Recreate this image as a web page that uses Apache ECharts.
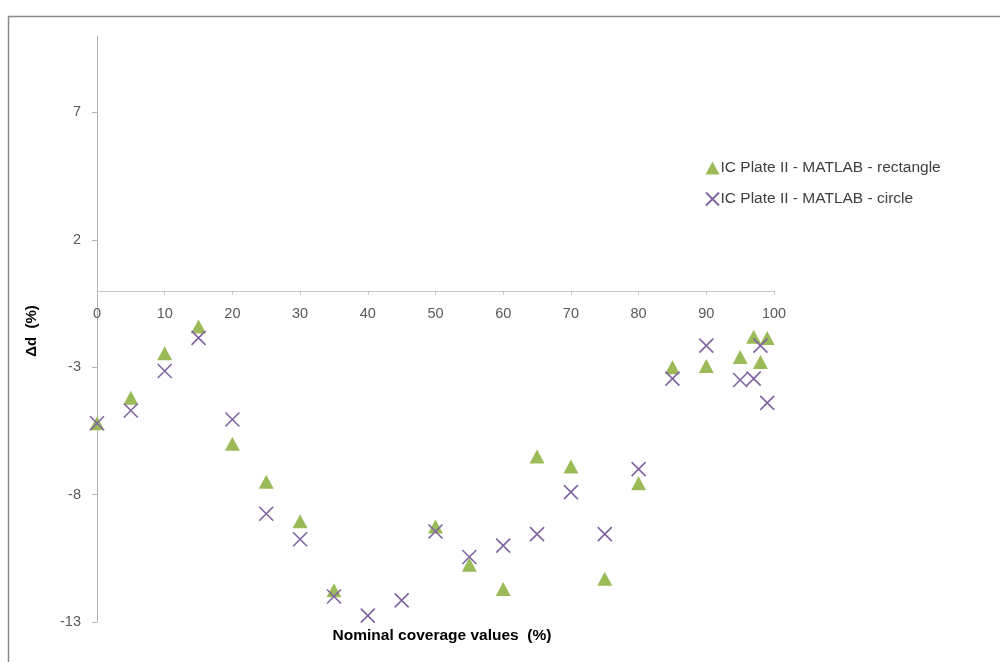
<!DOCTYPE html>
<html>
<head>
<meta charset="utf-8">
<script src="https://cdn.jsdelivr.net/npm/echarts@6/dist/echarts.min.js"></script>
<style>
  html, body { margin: 0; padding: 0; background: #fff; }
  #chart { width: 1000px; height: 662px; }
</style>
</head>
<body>
<div id="chart"></div>
<script>
// Nominal coverage (%) and deviation Δd (%) for each shape model
const rectCoverage = [0, 5, 10, 15, 20, 25, 30, 35, 50, 55, 60, 65, 70, 75, 80, 85, 90, 95, 97, 98, 99];
const rectDelta    = [-5.2, -4.2, -2.45, -1.4, -6.0, -7.5, -9.05, -11.75, -9.25, -10.75, -11.7, -6.5, -6.9, -11.3, -7.55, -3.0, -2.95, -2.6, -1.8, -2.8, -1.85];

const circCoverage = [0, 5, 10, 15, 20, 25, 30, 35, 40, 45, 50, 55, 60, 65, 70, 75, 80, 85, 90, 95, 97, 98, 99];
const circDelta    = [-5.2, -4.7, -3.15, -1.85, -5.05, -8.75, -9.75, -12.0, -12.75, -12.15, -9.45, -10.45, -10.0, -9.55, -7.9, -9.55, -7.0, -3.45, -2.15, -3.5, -3.45, -2.15, -4.4];

const yTickValues = [-13, -8, -3, 2, 7];
const yMin = -13, yMax = 10;

const seriesNames = ['IC Plate II - MATLAB - rectangle', 'IC Plate II - MATLAB - circle'];

const zip = (xs, ys) => xs.map((x, i) => [x, ys[i]]);

const FONT = '"Liberation Sans", Arial, sans-serif';
const crossPath = 'path://M0,0L10,10M10,0L0,10';

// plot area
const W = 1000, H = 662;
const grid = { left: 97, right: 226, top: 36, bottom: 40 };
const plotH = H - grid.top - grid.bottom;
// the coverage axis sits on Δd = 0, so shift it up from the bottom edge
const zeroFromBottom = plotH * (0 - yMin) / (yMax - yMin);

const chart = echarts.init(document.getElementById('chart'), null, { renderer: 'canvas' });

chart.setOption({
  animation: false,
  backgroundColor: '#ffffff',
  textStyle: { fontFamily: FONT },
  grid: Object.assign({ containLabel: false }, grid),
  legend: {
    orient: 'vertical',
    left: 700,
    top: 154,
    itemGap: 13,
    itemWidth: 14,
    itemHeight: 13,
    textStyle: { fontFamily: FONT, fontSize: 15.5, lineHeight: 18, color: '#404040', padding: [0, 0, 0, -4] },
    data: [
      { name: seriesNames[0], icon: 'triangle' },
      { name: seriesNames[1], icon: crossPath }
    ]
  },
  xAxis: {
    type: 'value',
    position: 'bottom',
    offset: -zeroFromBottom,
    min: 0, max: 100, interval: 10,
    axisLine: { onZero: false, lineStyle: { color: '#c8c8c8', width: 1 } },
    axisTick: { show: true, inside: false, length: 4, lineStyle: { color: '#c8c8c8' } },
    axisLabel: { color: '#595959', fontSize: 14.5, fontFamily: FONT, margin: 16 },
    splitLine: { show: false }
  },
  yAxis: {
    type: 'value',
    min: yMin, max: yMax, interval: 5,
    axisLine: { show: true, lineStyle: { color: '#b4b4b4', width: 1 } },
    axisTick: { show: true, length: 5, customValues: yTickValues, lineStyle: { color: '#b4b4b4' } },
    axisLabel: { color: '#595959', fontSize: 14.5, fontFamily: FONT, margin: 16, customValues: yTickValues },
    splitLine: { show: false }
  },
  graphic: [
    {
      type: 'rect', silent: true, z: -1,
      shape: { x: 8.5, y: 16.5, width: 1100, height: 800 },
      style: { fill: 'none', stroke: '#8a8a8a', lineWidth: 1.5 }
    },
    {
      type: 'text', silent: true,
      x: 442, y: 636,
      style: {
        text: 'Nominal coverage values  (%)',
        font: 'bold 15.5px ' + FONT, fill: '#000000',
        align: 'center', verticalAlign: 'middle'
      }
    },
    {
      type: 'text', silent: true,
      x: 32, y: 331, rotation: Math.PI / 2,
      style: {
        text: 'Δd  (%)',
        font: 'bold 15px ' + FONT, fill: '#000000',
        align: 'center', verticalAlign: 'middle'
      }
    }
  ],
  series: [
    {
      name: seriesNames[0],
      type: 'scatter',
      symbol: 'triangle',
      symbolSize: [15, 14],
      itemStyle: { color: '#9bbb59', opacity: 1 },
      data: zip(rectCoverage, rectDelta),
      z: 2
    },
    {
      name: seriesNames[1],
      type: 'scatter',
      symbol: crossPath,
      symbolSize: 14,
      itemStyle: { color: 'rgba(0,0,0,0)', borderColor: '#8064a2', borderWidth: 1.6, opacity: 1 },
      data: zip(circCoverage, circDelta),
      z: 3
    }
  ]
});
</script>
</body>
</html>
